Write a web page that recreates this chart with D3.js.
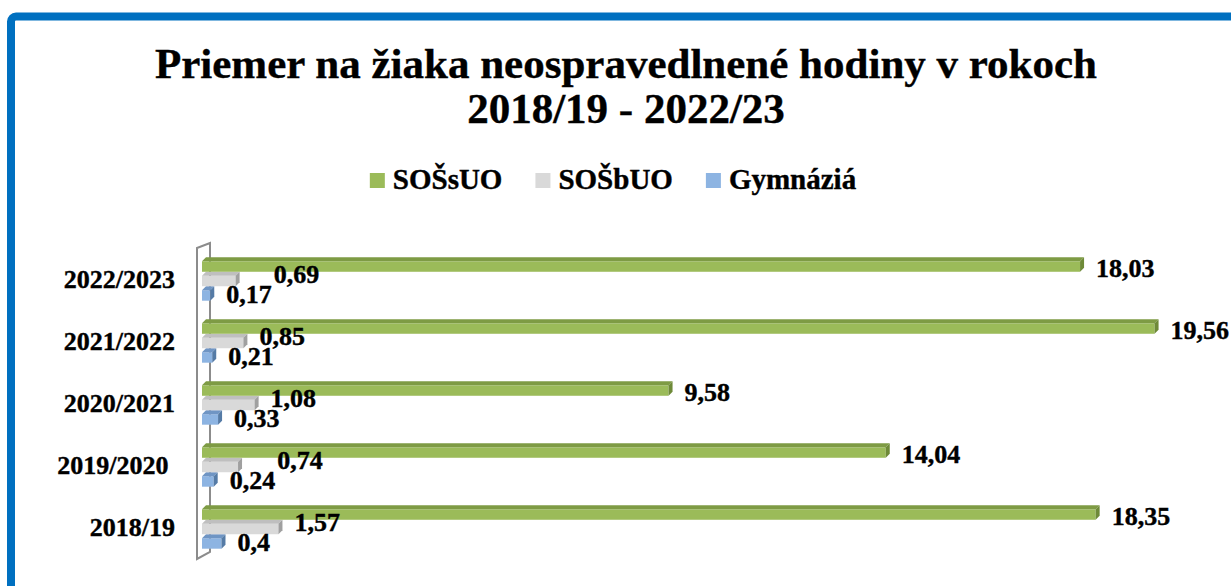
<!DOCTYPE html>
<html>
<head>
<meta charset="utf-8">
<script src="https://cdn.jsdelivr.net/npm/d3@7/dist/d3.min.js"></script>
<style>
body { margin: 0; background: #fff; }
text { font-family: "Liberation Serif", "Times New Roman", serif; font-weight: bold; fill: #000; stroke: #000; stroke-width: 0.4px; white-space: pre; }
</style>
</head>
<body>
<div id="chart"></div>
<script>
// data
var years = ["2022/2023", "2021/2022", "2020/2021", "2019/2020 ", "2018/19"];
var seriesNames = ["SOŠsUO", "SOŠbUO", "Gymnáziá"];
var sosSuo = [18.03, 19.56, 9.58, 14.04, 18.35];
var sosBuo = [0.69, 0.85, 1.08, 0.74, 1.57];
var gymnazia = [0.17, 0.21, 0.33, 0.24, 0.4];
var titleLines = ["Priemer na žiaka neospravedlnené hodiny v rokoch", "2018/19 - 2022/23"];

var W = 1231, H = 586;
// front colour, top face, end cap
var colors = {
    "SOŠsUO": ["#9BBB59", "#7E9B44", "#6E8A38"],
    "SOŠbUO": ["#D9D9D9", "#BFBFBF", "#A0A0A0"],
    "Gymnáziá": ["#8DB4E2", "#6F95C4", "#557BA6"]
};
var values = { "SOŠsUO": sosSuo, "SOŠbUO": sosBuo, "Gymnáziá": gymnazia };

var svg = d3.select("#chart").append("svg")
    .attr("width", W)
    .attr("height", H);

// frame
svg.append("rect")
    .attr("x", 11).attr("y", 16.5)
    .attr("width", 1260).attr("height", 620)
    .attr("rx", 5)
    .attr("fill", "#fff")
    .attr("stroke", "#0070C0")
    .attr("stroke-width", 8);

// title
svg.selectAll(".title")
    .data(titleLines)
    .enter()
    .append("text")
    .attr("class", "title")
    .attr("x", 626)
    .attr("y", (d, i) => 78 + i * 45)
    .attr("text-anchor", "middle")
    .style("font-size", "43px")
    .text(d => d);

// legend
var legend = svg.append("g");
var lx = 0;
seriesNames.forEach(function (s) {
    var g = legend.append("g").attr("transform", "translate(" + lx + ",0)");
    g.append("rect")
        .attr("x", 0).attr("y", 173)
        .attr("width", 15).attr("height", 15)
        .attr("fill", colors[s][0]);
    var t = g.append("text")
        .attr("x", 23).attr("y", 189)
        .style("font-size", "29px")
        .text(s);
    lx += 23 + t.node().getComputedTextLength() + 33;
});
lx -= 33;
legend.attr("transform", "translate(" + (613 - lx / 2) + ",0)");

// scales
var x = d3.scaleLinear().domain([0, 20]).range([202, 1176]);
var y0 = d3.scaleBand().domain(years).range([248, 558]).paddingInner(0.3).paddingOuter(0.15);
var y1 = d3.scaleBand().domain(seriesNames).range([0, y0.bandwidth()]);
var dx = 4, dy = 4;

// back wall of the 3D plot
var wx0 = x(0) - 5, wx1 = x(0) + 8;
svg.append("path")
    .attr("d", "M" + wx0 + ",559 L" + wx0 + ",248 L" + wx1 + ",243 L" + wx1 + ",552 Z")
    .attr("fill", "#fff")
    .attr("stroke", "#8C8C8C")
    .attr("stroke-width", 2);

// category labels
svg.selectAll(".cat")
    .data(years)
    .enter()
    .append("text")
    .attr("class", "cat")
    .attr("x", 175)
    .attr("y", d => y0(d) + y0.bandwidth() / 2 + 9)
    .attr("text-anchor", "end")
    .style("font-size", "26px")
    .text(d => d);

// bars, lower series first so the upper one covers its top face
var order = seriesNames.slice().reverse();
years.forEach(function (yr, i) {
    var grp = svg.append("g");
    order.forEach(function (s) {
        var v = values[s][i];
        var x0 = x(0), xv = x(v);
        var top = y0(yr) + y1(s);
        var bot = top + y1.bandwidth();
        grp.append("rect")
            .attr("x", x0).attr("y", top + dy)
            .attr("width", xv - x0).attr("height", bot - top - dy)
            .attr("fill", colors[s][0]);
        grp.append("polygon")
            .attr("points", [[x0, top + dy], [x0 + dx, top], [xv + dx, top], [xv, top + dy]].join(" "))
            .attr("fill", colors[s][1]);
        grp.append("polygon")
            .attr("points", [[xv, top + dy], [xv + dx, top], [xv + dx, bot - dy], [xv, bot]].join(" "))
            .attr("fill", colors[s][2]);
    });
});

// data labels
var labelShift = { "SOŠsUO": 12, "SOŠbUO": 4, "Gymnáziá": 10 };
var labels = {};
seriesNames.forEach(function (s) {
    labels[s] = svg.selectAll(".lab" + seriesNames.indexOf(s))
        .data(values[s])
        .enter()
        .append("text")
        .attr("x", d => x(d) + dx + 12)
        .attr("y", (d, i) => y0(years[i]) + y1(s) + y1.bandwidth() / 2 + labelShift[s])
        .style("font-size", "26px")
        .text(d => String(d).replace(".", ","));
});
// push a SOŠbUO label right when it sits too far over the Gymnáziá label below it
labels["SOŠbUO"].each(function (d, i) {
    var blue = labels["Gymnáziá"].nodes()[i];
    var blueEnd = +blue.getAttribute("x") + blue.getComputedTextLength();
    var gx = +this.getAttribute("x");
    if (blueEnd - gx > 18) d3.select(this).attr("x", blueEnd + 2);
});
</script>
</body>
</html>
